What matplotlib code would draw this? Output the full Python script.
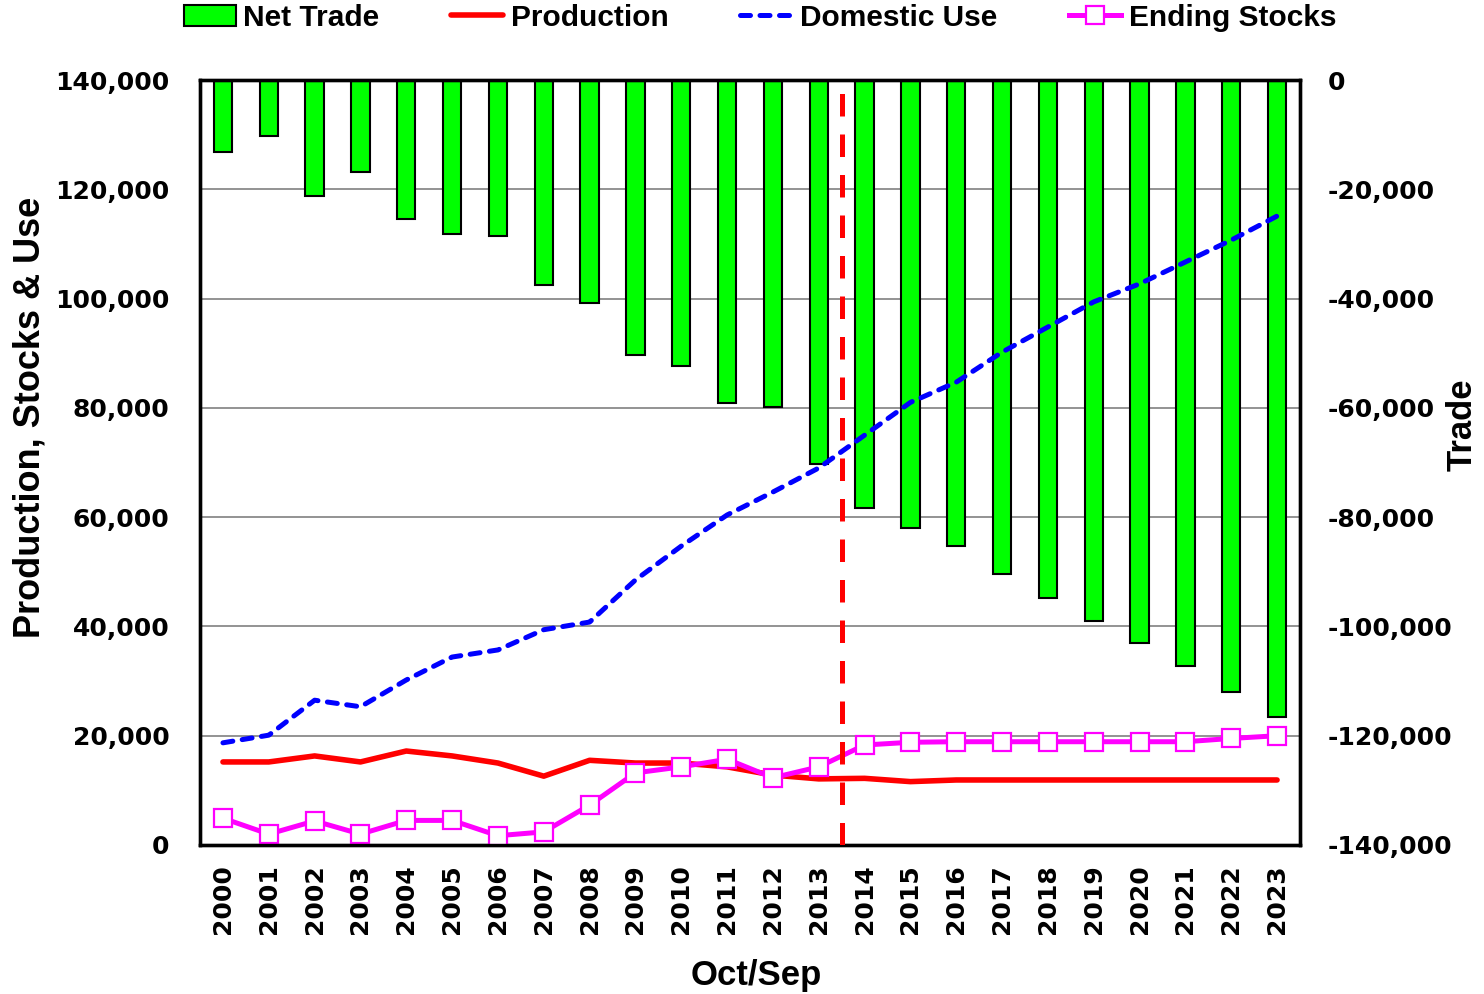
"""Production, stocks, use and net trade, Oct/Sep years 2000-2023."""

import numpy as np
import matplotlib
matplotlib.use("Agg")
import matplotlib.pyplot as plt
import matplotlib.ticker as mticker


years = [str(y) for y in range(2000, 2024)]

net_trade = [-13200, -10300, -21200, -16800, -25400, -28200, -28500, -37500,
             -40800, -50300, -52300, -59100, -59800, -70300, -78300, -82000,
             -85300, -90400, -94800, -99000, -103000, -107200, -112000, -116600]

production = [15200, 15200, 16300, 15200, 17200, 16300, 15000, 12600,
              15500, 15000, 15000, 14300, 12800, 12100, 12200, 11600,
              11900, 11900, 11900, 11900, 11900, 11900, 11900, 11900]

domestic_use = [18700, 20100, 26500, 25300, 30200, 34400, 35700, 39400,
                40800, 48500, 54700, 60400, 64600, 69000, 75000, 81000,
                84700, 90200, 94800, 99400, 102700, 106700, 110700, 115100]

ending_stocks = [4900, 2000, 4400, 2000, 4500, 4500, 1700, 2400,
                 7300, 13200, 14300, 15700, 12300, 14300, 18300, 18800,
                 18900, 18900, 18900, 18900, 18900, 18900, 19500, 20000]

LABEL_FONT = "Liberation Sans"
TICK_FONT = "DejaVu Sans"

x = np.arange(len(years))

fig = plt.figure(figsize=(14.84, 9.94), dpi=100)
ax = fig.add_axes([0.1348, 0.1499, 0.7412, 0.7696])
ax2 = ax.twinx()

# bars live on the right (trade) axis, drawn underneath the lines
ax.set_zorder(ax2.get_zorder() + 1)
ax.patch.set_visible(False)

bars = ax2.bar(x, net_trade, width=0.4, color="#00FF00", edgecolor="black",
               linewidth=1.5, label="Net Trade", zorder=2)
ax2.set_ylim(-140000, 0)
ax2.yaxis.set_major_locator(mticker.MultipleLocator(20000))
ax2.grid(axis="y", color="#808080", linewidth=1.2, zorder=0)
ax2.set_axisbelow(True)

l_prod, = ax.plot(x, production, color="red", linewidth=4.0,
                  solid_capstyle="round", label="Production")
l_use, = ax.plot(x, domestic_use, color="blue", linewidth=3.6,
                 dashes=(2.0, 1.9), dash_capstyle="round", label="Domestic Use")
l_stk, = ax.plot(x, ending_stocks, color="#FF00FF", linewidth=3.6,
                 marker="s", markersize=13, markerfacecolor="white",
                 markeredgecolor="#FF00FF", markeredgewidth=1.6,
                 label="Ending Stocks")

# projection break between 2013 and 2014
ax.axvline(13.5, color="red", linewidth=3.6, dashes=(4.5, 3.6), zorder=5)

ax.set_xlim(-0.5, len(years) - 0.5)
ax.set_ylim(0, 140000)
ax.yaxis.set_major_locator(mticker.MultipleLocator(20000))

fmt = mticker.FuncFormatter(lambda v, p: f"{int(v):,}")
ax.yaxis.set_major_formatter(fmt)
ax2.yaxis.set_major_formatter(fmt)

ax.set_xticks(x)
ax.set_xticklabels(years, rotation=90)

for a in (ax, ax2):
    for s in a.spines.values():
        s.set_linewidth(2.4)
        s.set_color("black")
    a.tick_params(length=0)
    for lab in a.get_yticklabels():
        lab.set_fontfamily(TICK_FONT)
        lab.set_fontweight("bold")
        lab.set_fontsize(18)
ax.tick_params(axis="y", pad=22)
ax2.tick_params(axis="y", pad=20)
ax.tick_params(axis="x", pad=14)
for lab in ax.get_xticklabels():
    lab.set_fontfamily(TICK_FONT)
    lab.set_fontweight("bold")
    lab.set_fontsize(18)

fig.text(30 / 1484, 1 - 417 / 994, "Production, Stocks & Use", rotation=90,
         ha="center", va="center", fontsize=26, fontweight="bold",
         family=LABEL_FONT)
fig.text(1462 / 1484, 1 - 425 / 994, "Trade", rotation=90,
         ha="center", va="center", fontsize=25, fontweight="bold",
         family=LABEL_FONT)
fig.text(756 / 1484, 1 - 975 / 994, "Oct/Sep",
         ha="center", va="center", fontsize=25, fontweight="bold",
         family=LABEL_FONT)

fig.legend(handles=[bars, l_prod, l_use, l_stk], loc="center",
           bbox_to_anchor=(0.512, 0.982), ncol=4, frameon=False,
           prop={"family": LABEL_FONT, "weight": "bold", "size": 21.5},
           handlelength=1.75, handletextpad=0.25, columnspacing=2.4,
           borderpad=0, borderaxespad=0)

fig.savefig("out.png", dpi=100, facecolor="white")
